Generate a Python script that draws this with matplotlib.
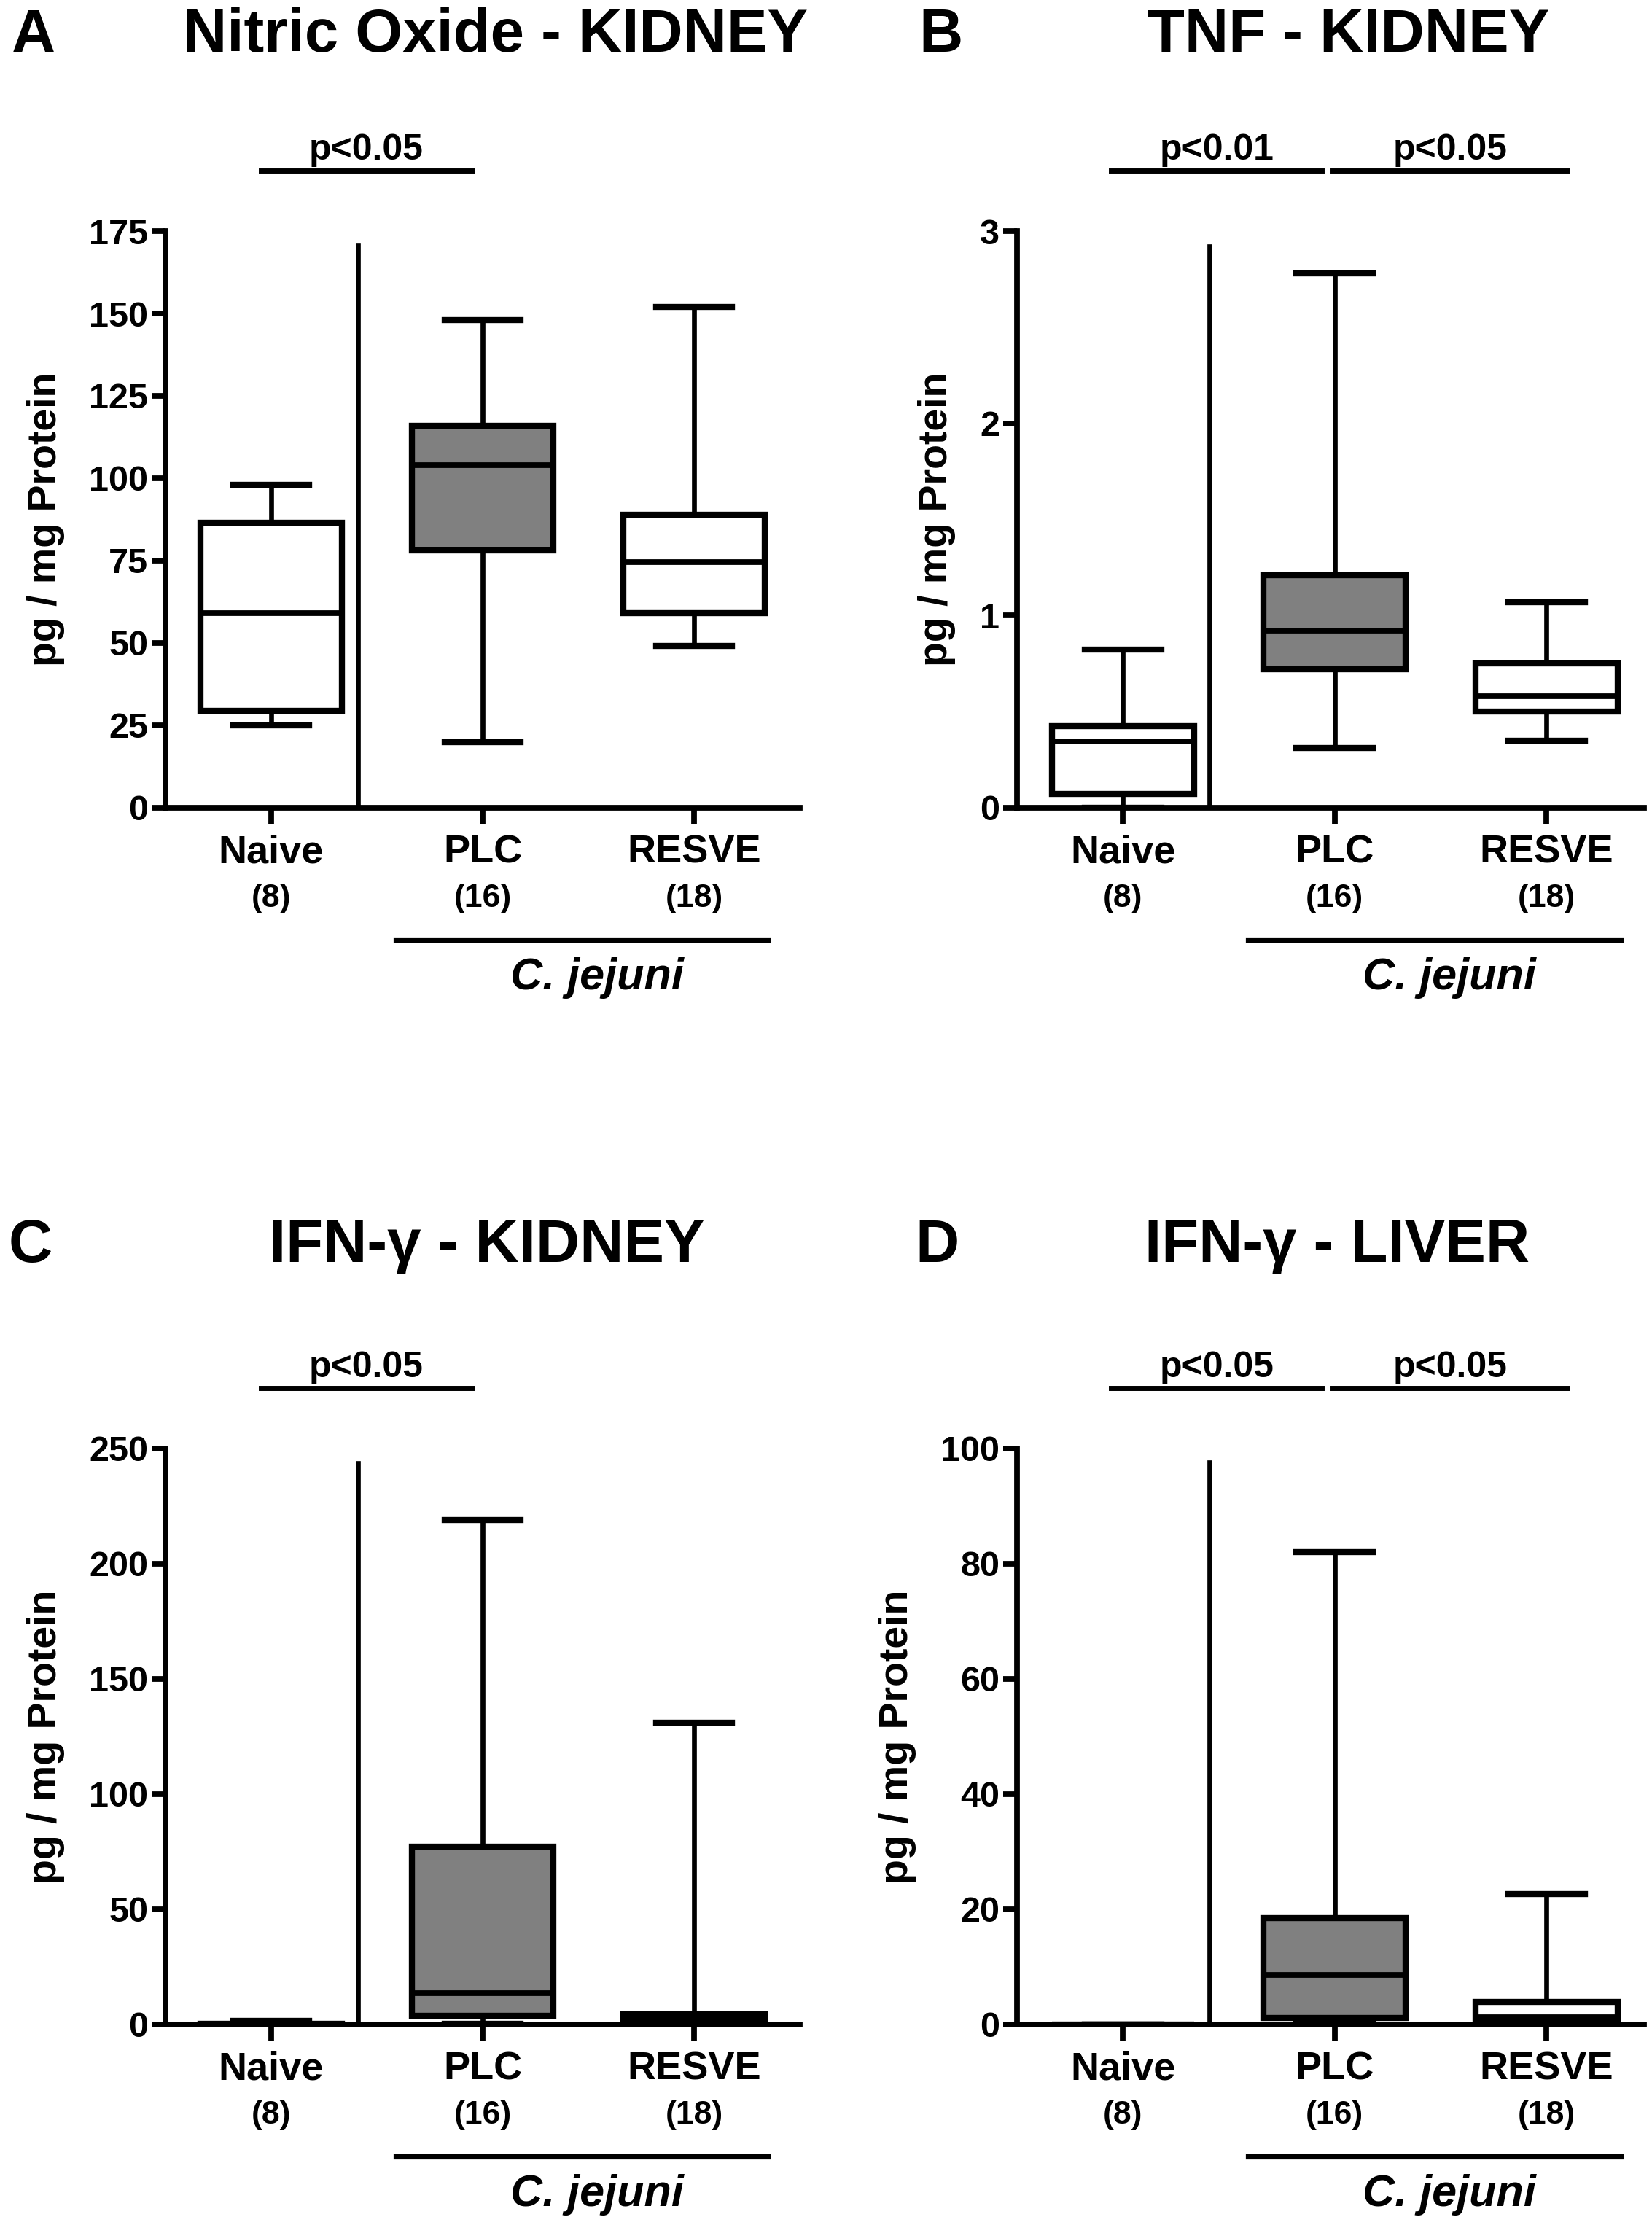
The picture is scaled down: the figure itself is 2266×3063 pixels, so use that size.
import matplotlib
matplotlib.use("Agg")
import matplotlib.pyplot as plt

plt.rcParams['font.family'] = ['Liberation Sans', 'DejaVu Sans']
plt.rcParams['font.weight'] = 'bold'

groups = ["Naive", "PLC", "RESVE"]
counts = ["(8)", "(16)", "(18)"]
fills = ["white", "#808080", "white"]

# box stats per panel: whisker low, q1, median, q3, whisker high
no_kidney = [[25, 29.5, 59, 86.5, 98],
             [20, 78, 104, 116, 148],
             [49, 59, 74.5, 89, 152]]
tnf_kidney = [[0, 0.072, 0.346, 0.425, 0.824],
              [0.31, 0.72, 0.92, 1.21, 2.78],
              [0.35, 0.50, 0.58, 0.75, 1.07]]
ifn_kidney = [[0, 0, 0.1, 0.3, 1.5],
              [0.3, 3.8, 13.6, 77.2, 219],
              [0, 0.3, 2.5, 4.5, 131]]
ifn_liver = [[0, 0, 0, 0, 0],
             [0.3, 1.1, 8.6, 18.5, 82],
             [0, 0.4, 1.3, 3.9, 22.6]]

titles = ["Nitric Oxide - KIDNEY", "TNF - KIDNEY", "IFN-\u03b3 - KIDNEY", "IFN-\u03b3 - LIVER"]
letters = ["A", "B", "C", "D"]
ymax = [175, 3, 250, 100]
ystep = [25, 1, 50, 20]
sep_top = [170.6, 2.92, 243.7, 97.6]
# significance bars: (x start, x end, label)
sig = [[(-0.05, 0.95, "p<0.05")],
       [(-0.055, 0.94, "p<0.01"), (0.99, 2.1, "p<0.05")],
       [(-0.05, 0.95, "p<0.05")],
       [(-0.055, 0.94, "p<0.05"), (0.99, 2.1, "p<0.05")]]
panels = [no_kidney, tnf_kidney, ifn_kidney, ifn_liver]

fig = plt.figure(figsize=(11.33, 15.315), dpi=200)

ax_pos = [[0.1002, 0.6383, 0.3839, 0.2582],
          [0.6156, 0.6383, 0.3795, 0.2582],
          [0.1002, 0.0934, 0.3839, 0.2579],
          [0.6156, 0.0934, 0.3795, 0.2579]]
title_xy = [(0.300, 0.984), (0.8164, 0.984), (0.2948, 0.442), (0.8094, 0.442)]
letter_xy = [(0.007, 0.984), (0.556, 0.984), (0.005, 0.442), (0.554, 0.442)]

lw = 2.8
for i in range(4):
    ax = fig.add_axes(ax_pos[i])
    stats = []
    for g, v in zip(groups, panels[i]):
        stats.append({"label": g, "whislo": v[0], "q1": v[1], "med": v[2],
                      "q3": v[3], "whishi": v[4], "fliers": []})
    bp = ax.bxp(stats, positions=[0, 1, 2], widths=0.67, capwidths=0.36,
                patch_artist=True, showfliers=False,
                boxprops=dict(linewidth=3.0, edgecolor="black"),
                whiskerprops=dict(linewidth=2.4, color="black"),
                capprops=dict(linewidth=3.0, color="black"),
                medianprops=dict(linewidth=2.8, color="black"))
    for patch, c in zip(bp["boxes"], fills):
        patch.set_facecolor(c)

    # separator between naive and infected groups
    ax.plot([0.41, 0.41], [0, sep_top[i]], color="black", linewidth=2.4)

    ax.set_ylim(0, ymax[i])
    if i in (1, 3):
        ax.set_xlim(-0.5, 2.46)
    else:
        ax.set_xlim(-0.5, 2.5)
    ax.set_yticks([k * ystep[i] for k in range(int(round(ymax[i] / ystep[i])) + 1)])
    ax.set_xticks([0, 1, 2])
    ax.set_xticklabels(["", "", ""])
    ax.spines["top"].set_visible(False)
    ax.spines["right"].set_visible(False)
    ax.spines["left"].set_linewidth(lw)
    ax.spines["bottom"].set_linewidth(lw)
    ax.tick_params(axis="y", length=7, width=lw, labelsize=17.5, pad=1.5)
    ax.tick_params(axis="x", length=8, width=lw)
    for t in ax.get_yticklabels():
        t.set_fontweight("bold")
    ax.set_ylabel("pg / mg Protein", fontsize=20, fontweight="bold", labelpad=12)

    tr = ax.get_xaxis_transform()
    for k in range(3):
        ax.text(k, -0.078, groups[k], transform=tr, ha="center", va="center",
                fontsize=19.5, fontweight="bold")
        ax.text(k, -0.158, counts[k], transform=tr, ha="center", va="center",
                fontsize=16, fontweight="bold")
    ax.plot([0.59, 2.35], [-0.229, -0.229], transform=tr, color="black",
            linewidth=2.6, clip_on=False)
    ax.text(1.54, -0.296, "C. jejuni", transform=tr, ha="center", va="center",
            fontsize=22, fontweight="bold", style="italic")

    for x0, x1, lab in sig[i]:
        ax.plot([x0, x1], [1.105, 1.105], transform=tr, color="black",
                linewidth=2.5, clip_on=False)
        ax.text((x0 + x1) / 2, 1.124, lab, transform=tr, ha="center",
                va="baseline", fontsize=18, fontweight="bold")

    fig.text(title_xy[i][0], title_xy[i][1], titles[i], ha="center", va="center",
             fontsize=30, fontweight="bold")
    fig.text(letter_xy[i][0], letter_xy[i][1], letters[i], ha="left", va="center",
             fontsize=30, fontweight="bold")

fig.savefig("out.png", dpi=200, facecolor="white")
